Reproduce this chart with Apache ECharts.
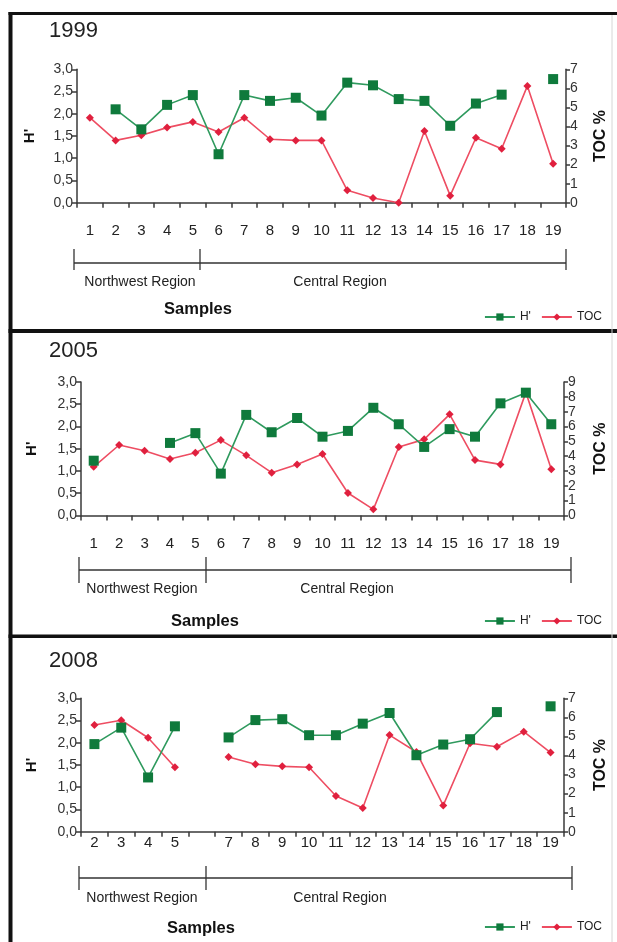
<!DOCTYPE html>
<html>
<head>
<meta charset="utf-8">
<script src="https://cdn.jsdelivr.net/npm/echarts@6/dist/echarts.min.js"></script>
<style>
html,body{margin:0;padding:0;background:#fff;}
#chart{width:617px;height:942px;}
</style>
</head>
<body>
<div id="chart"></div>
<script>
// ---------- DATA ----------
const categories1999 = ['1','2','3','4','5','6','7','8','9','10','11','12','13','14','15','16','17','18','19'];
const h1999   = [null, 2.10, 1.65, 2.20, 2.42, 1.09, 2.42, 2.29, 2.36, 1.96, 2.70, 2.64, 2.33, 2.29, 1.73, 2.23, 2.43, null, 2.78];
const toc1999 = [4.46, 3.27, 3.54, 3.94, 4.24, 3.71, 4.46, 3.33, 3.27, 3.27, 0.65, 0.25, 0.00, 3.76, 0.37, 3.41, 2.83, 6.13, 2.05];

const categories2005 = ['1','2','3','4','5','6','7','8','9','10','11','12','13','14','15','16','17','18','19'];
const h2005   = [1.23, null, null, 1.63, 1.85, 0.94, 2.26, 1.87, 2.19, 1.77, 1.90, 2.42, 2.05, 1.54, 1.94, 1.77, 2.52, 2.76, 2.05];
const toc2005 = [3.28, 4.75, 4.36, 3.80, 4.23, 5.08, 4.05, 2.88, 3.44, 4.14, 1.51, 0.41, 4.61, 5.13, 6.82, 3.73, 3.44, 8.30, 3.11];

const categories2008 = ['2','3','4','5','','7','8','9','10','11','12','13','14','15','16','17','18','19'];
const h2008   = [1.97, 2.34, 1.22, 2.37, null, 2.12, 2.51, 2.53, 2.17, 2.17, 2.43, 2.67, 1.72, 1.96, 2.08, 2.69, null, 2.82];
const toc2008 = [5.60, 5.85, 4.93, 3.38, null, 3.92, 3.54, 3.43, 3.38, 1.87, 1.24, 5.07, 4.18, 1.38, 4.64, 4.46, 5.25, 4.15];

const hTicks = { min: 0, max: 3, interval: 0.5 };
const tocMax1999 = 7, tocMax2005 = 9, tocMax2008 = 7;
const years = ['1999', '2005', '2008'];
const hName = "H'";
const tocName = 'TOC';
const regionNames = ['Northwest Region', 'Central Region'];
const xTitle = 'Samples';

// ---------- LAYOUT ----------
const FONT = "'Liberation Sans', Arial, sans-serif";
const GREEN_LINE = '#2f9a5e', GREEN_SYM = '#0f7a3c';
const RED_LINE = '#ee4d62', RED_SYM = '#e0203e';
const AXIS = '#3a3a3a';

const panels = [
  { year: years[0], cats: categories1999, h: h1999, toc: toc1999, tocMax: tocMax1999,
    left: 77, right: 51, top: 69.3, labelMargin: 21, titleTop: 20, hGap: 40, tGap: 27,
    br: { x0: 74, xm: 200, x1: 566, y: 263, t0: 249, t1: 270 }, txtY: 282, nwX: 140, ceX: 340, sX: 198, sY: 309, legTop: 306 },
  { year: years[1], cats: categories2005, h: h2005, toc: toc2005, tocMax: tocMax2005,
    left: 81, right: 47.7, top: 382, labelMargin: 21, titleTop: 340, hGap: 42, tGap: 29,
    br: { x0: 79, xm: 206, x1: 571, y: 570, t0: 557, t1: 583 }, txtY: 589, nwX: 142, ceX: 347, sX: 205, sY: 621, legTop: 610 },
  { year: years[2], cats: categories2008, h: h2008, toc: toc2008, tocMax: tocMax2008,
    left: 81, right: 47, top: 698.3, labelMargin: 4, titleTop: 650, hGap: 42, tGap: 29,
    br: { x0: 79, xm: 206, x1: 572, y: 878, t0: 866, t1: 890 }, txtY: 898, nwX: 142, ceX: 340, sX: 201, sY: 928, legTop: 916 }
];
const GRID_H = 133.4;

const fmt = v => v.toFixed(1).replace('.', ',');

const option = {
  animation: false,
  backgroundColor: '#fff',
  textStyle: { fontFamily: FONT },
  title: panels.map(p => ({
    text: p.year, left: 49, top: p.titleTop, padding: 0,
    textStyle: { fontFamily: FONT, fontSize: 22, fontWeight: 'normal', color: '#222' }
  })),
  legend: panels.map(p => ({
    data: [hName, tocName], right: 10, top: p.legTop, itemWidth: 30, itemHeight: 9, itemGap: 10,
    textStyle: { fontFamily: FONT, fontSize: 12, color: '#222' }, selectedMode: false
  })),
  grid: panels.map(p => ({ left: p.left, right: p.right, top: p.top, height: GRID_H })),
  xAxis: panels.map((p, i) => ({
    gridIndex: i, type: 'category', data: p.cats, boundaryGap: true,
    axisLine: { lineStyle: { color: AXIS, width: 1.5 } },
    axisTick: { show: true, interval: 0, length: 5, inside: false, lineStyle: { color: AXIS, width: 1.5 } },
    axisLabel: { interval: 0, margin: p.labelMargin, fontSize: 15, color: '#222', fontFamily: FONT },
    splitLine: { show: false }
  })),
  yAxis: panels.flatMap((p, i) => [
    { gridIndex: i, type: 'value', position: 'left', min: hTicks.min, max: hTicks.max, interval: hTicks.interval,
      name: hName, nameLocation: 'middle', nameGap: p.hGap, nameRotate: 90,
      nameTextStyle: { fontFamily: FONT, fontSize: 15, fontWeight: 'bold', color: '#111' },
      axisLine: { show: true, lineStyle: { color: AXIS, width: 1.5 } },
      axisTick: { show: true, length: 5, lineStyle: { color: AXIS, width: 1.5 } },
      axisLabel: { formatter: fmt, fontSize: 14, color: '#333', margin: 4, fontFamily: FONT },
      splitLine: { show: false } },
    { gridIndex: i, type: 'value', position: 'right', min: 0, max: p.tocMax, interval: 1,
      name: 'TOC %', nameLocation: 'middle', nameGap: p.tGap, nameRotate: 90,
      nameTextStyle: { fontFamily: FONT, fontSize: 16, fontWeight: 'bold', color: '#111' },
      axisLine: { show: true, lineStyle: { color: AXIS, width: 1.5 } },
      axisTick: { show: true, length: 4, lineStyle: { color: AXIS, width: 1.5 } },
      axisLabel: { fontSize: 14, color: '#333', margin: 4, fontFamily: FONT },
      splitLine: { show: false } }
  ]),
  series: panels.flatMap((p, i) => [
    { name: hName, type: 'line', xAxisIndex: i, yAxisIndex: 2 * i, data: p.h, connectNulls: false,
      symbol: 'rect', symbolSize: 10, showSymbol: true, showAllSymbol: true,
      lineStyle: { color: GREEN_LINE, width: 1.6 }, itemStyle: { color: GREEN_SYM }, z: 3 },
    { name: tocName, type: 'line', xAxisIndex: i, yAxisIndex: 2 * i + 1, data: p.toc, connectNulls: false,
      symbol: 'diamond', symbolSize: 8, showSymbol: true, showAllSymbol: true,
      lineStyle: { color: RED_LINE, width: 1.6 }, itemStyle: { color: RED_SYM }, z: 2 }
  ]),
  graphic: []
};

// frame
const g = [];
g.push({ type: 'rect', shape: { x: 8.5, y: 12, width: 4, height: 930 }, style: { fill: '#111' } });
g.push({ type: 'rect', shape: { x: 8.5, y: 12, width: 609, height: 3 }, style: { fill: '#111' } });
g.push({ type: 'rect', shape: { x: 8.5, y: 329, width: 609, height: 4 }, style: { fill: '#111' } });
g.push({ type: 'rect', shape: { x: 8.5, y: 634.5, width: 609, height: 3.5 }, style: { fill: '#111' } });
g.push({ type: 'line', shape: { x1: 612, y1: 15, x2: 612, y2: 942 }, style: { stroke: '#d6d6d6', lineWidth: 1 } });

panels.forEach(p => {
  const b = p.br;
  const ls = { stroke: '#333', lineWidth: 1.3 };
  g.push({ type: 'line', shape: { x1: b.x0, y1: b.y, x2: b.x1, y2: b.y }, style: ls });
  [b.x0, b.xm, b.x1].forEach(x => g.push({ type: 'line', shape: { x1: x, y1: b.t0, x2: x, y2: b.t1 }, style: ls }));
  g.push({ type: 'text', x: p.nwX, y: p.txtY, style: { text: regionNames[0], fontFamily: FONT, fontSize: 14, fill: '#222', align: 'center', verticalAlign: 'middle' } });
  g.push({ type: 'text', x: p.ceX, y: p.txtY, style: { text: regionNames[1], fontFamily: FONT, fontSize: 14, fill: '#222', align: 'center', verticalAlign: 'middle' } });
  g.push({ type: 'text', x: p.sX, y: p.sY, style: { text: xTitle, fontFamily: FONT, fontSize: 16.5, fontWeight: 'bold', fill: '#111', align: 'center', verticalAlign: 'middle' } });
});
option.graphic = g;

const chart = echarts.init(document.getElementById('chart'), null, { renderer: 'canvas' });
chart.setOption(option);
</script>
</body>
</html>
